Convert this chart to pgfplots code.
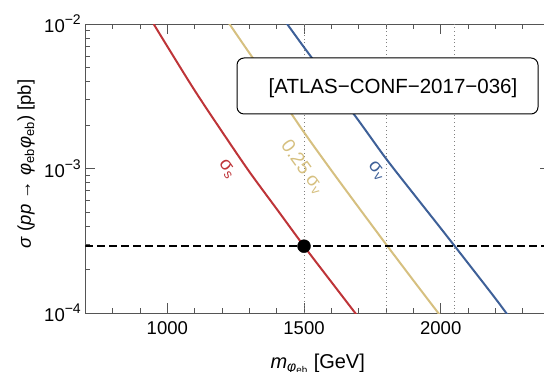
\documentclass[border=0pt]{standalone}
\usepackage{fontspec}
\setmainfont{Liberation Sans}
\usepackage{pgfplots}
\pgfplotsset{compat=1.18}
\definecolor{cred}{RGB}{190,52,56}
\definecolor{cgold}{RGB}{214,192,128}
\definecolor{cblue}{RGB}{62,96,152}
\definecolor{cframe}{RGB}{85,85,85}
\newcommand{\tenp}[1]{10\raisebox{0.42em}{\fontsize{14}{16}\selectfont #1}}
\begin{document}
\begin{tikzpicture}
\begin{axis}[
  scale only axis, width=464.8pt, height=289pt,
  xmin=700, xmax=2400, ymode=log, ymin=1e-4, ymax=1e-2,
  axis line style={cframe, line width=0.8pt},
  tick align=inside,
  every tick/.style={cframe, line width=0.8pt},
  major tick length=10pt, minor tick length=5pt,
  xtick={1000,1500,2000}, xticklabels={1000,1500,2000},
  minor xtick={700,800,900,1100,1200,1300,1400,1600,1700,1800,1900,2100,2200,2300},
  ytick={1e-4,1e-3,1e-2},
  yticklabels={\tenp{−4},\tenp{−3},\tenp{−2}},
  minor ytick={2e-4,3e-4,4e-4,5e-4,6e-4,7e-4,8e-4,9e-4,2e-3,3e-3,4e-3,5e-3,6e-3,7e-3,8e-3,9e-3},
  ticklabel style={font=\fontsize{18.5}{21}\selectfont},
  xticklabel style={yshift=-5pt},
  yticklabel style={xshift=-1pt},
  xlabel={\textit{m}\textsubscript{\textit{φ}\textsubscript{eb}} [GeV]},
  xlabel style={font=\fontsize{20}{24}\selectfont, at={(rel axis cs:0.5,-0.1913)}, anchor=base},
  ylabel={\textit{σ} (\textit{pp} → \textit{φ}\textsubscript{eb}\textit{φ}\textsubscript{eb}) [pb]},
  ylabel style={font=\fontsize{18.5}{22}\selectfont, at={(rel axis cs:-0.1276,0.5156)}, anchor=center},
]
% dotted guide lines
\addplot[gray, line width=0.8pt, dash pattern=on 0.8pt off 3pt] coordinates {(1500,1e-4) (1500,1e-2)};
\addplot[gray, line width=0.8pt, dash pattern=on 0.8pt off 3pt] coordinates {(1800,1e-4) (1800,1e-2)};
\addplot[gray, line width=0.8pt, dash pattern=on 0.8pt off 3pt] coordinates {(2050,1e-4) (2050,1e-2)};
% sigma_s
\addplot[cred, line width=2pt, smooth] coordinates {
 (950,1.0e-2) (1000,7.0e-3) (1100,3.47e-3) (1200,1.80e-3) (1300,9.5e-4)
 (1400,5.25e-4) (1500,2.9e-4) (1600,1.64e-4) (1700,9.3e-5)};
% 0.25 sigma_v
\addplot[cgold, line width=2pt, smooth] coordinates {
 (1200,1.19e-2) (1300,6.3e-3) (1400,3.39e-3) (1500,1.78e-3) (1600,9.7e-4)
 (1700,5.37e-4) (1800,2.99e-4) (1900,1.68e-4) (2000,9.5e-5)};
% sigma_v
\addplot[cblue, line width=2pt, smooth] coordinates {
 (1400,1.26e-2) (1500,6.9e-3) (1600,3.85e-3) (1700,2.14e-3) (1800,1.17e-3)
 (1900,6.7e-4) (2000,3.86e-4) (2100,2.21e-4) (2200,1.26e-4) (2250,9.4e-5)};
% limit
\addplot[black, line width=2.5pt, dash pattern=on 7.5pt off 4.5pt] coordinates {(700,2.9e-4) (2400,2.9e-4)};
\addplot[only marks, mark=*, mark size=6.5pt, black] coordinates {(1500,2.9e-4)};
% curve labels
\node[cred, rotate=-55, font=\fontsize{19}{22}\selectfont] at (axis cs:1218,9.9e-4) {σ\textsubscript{s}};
\node[cgold, rotate=-54, font=\fontsize{19}{22}\selectfont] at (axis cs:1495,1.02e-3) {0.25 σ\textsubscript{v}};
\node[cblue, rotate=-53, font=\fontsize{19}{22}\selectfont] at (axis cs:1765,9.6e-4) {σ\textsubscript{v}};
% box
\node[draw=black, fill=white, rounded corners=7pt, line width=1pt, minimum width=301pt, minimum height=56pt] at (rel axis cs:0.6502,0.7855) {};
\node[font=\fontsize{20.5}{24}\selectfont] at (rel axis cs:0.6620,0.7785) {[ATLAS−CONF−2017−036]};
\end{axis}
\pgfresetboundingbox
\path ([shift={(-85.3pt,-59pt)}]current axis.south west) rectangle ([shift={(-6.1pt,24pt)}]current axis.north east);
\end{tikzpicture}
\end{document}
